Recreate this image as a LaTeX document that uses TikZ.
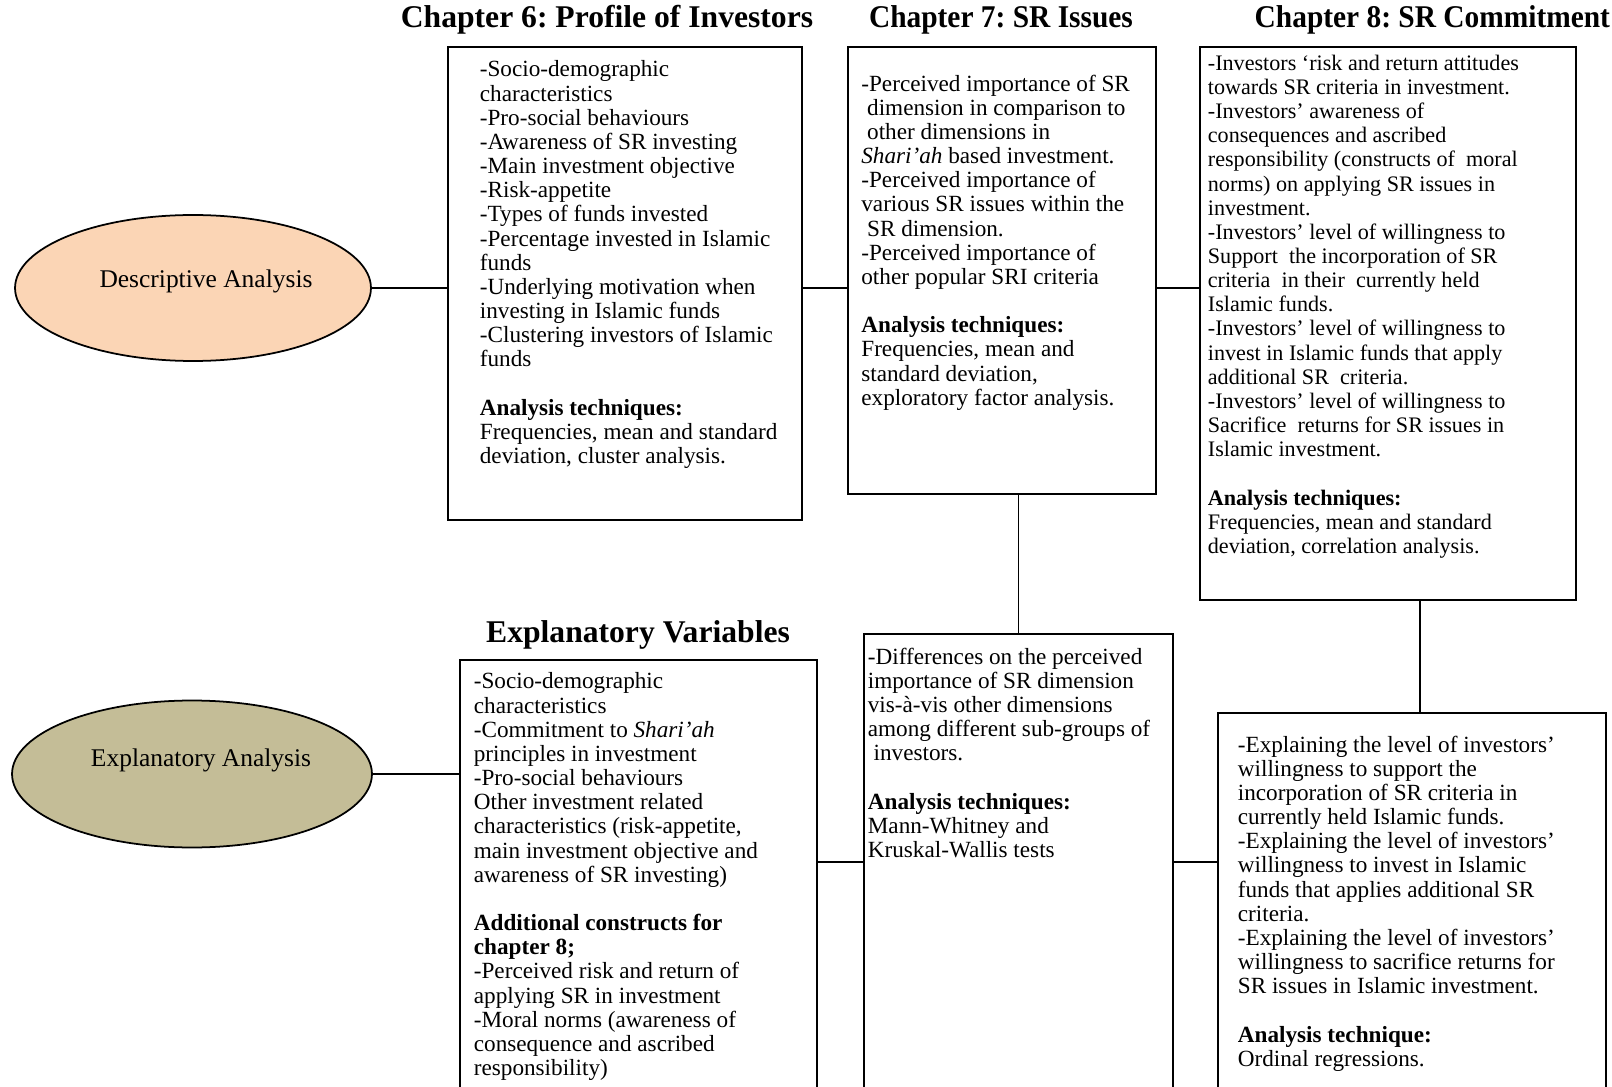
\documentclass[tikz,border=0pt]{standalone}
\usepackage{fontspec}
\setmainfont{Liberation Serif}
\newfontfamily\condfont[FakeStretch=0.93]{Liberation Serif}
\usepackage{tikz}
\usetikzlibrary{ shapes.geometric, positioning, calc }
\definecolor{peach}{HTML}{FBD5B5}
\definecolor{khaki}{HTML}{C4BD97}
\frenchspacing
\tikzset{
box/.style={draw, line width=1pt, inner sep=0pt}, % the framed text areas
body/.style={anchor=north west, inner sep=0pt, align=left,
  font=\fontsize{13.2}{13.75}\selectfont},
narrow/.style={body, font=\fontsize{12.6}{13.75}\selectfont},
title/.style={inner sep=0pt, font=\fontsize{18}{20}\selectfont\bfseries},
slim title/.style={title, font=\condfont\fontsize{18}{20}\selectfont\bfseries},
oval/.style={ellipse, draw, line width=1pt, inner sep=0pt},
oval text/.style={inner sep=0pt, font=\fontsize{14.5}{16}\selectfont},
}

\begin{document}
\begin{tikzpicture}[x=0.02cm, y=-0.02cm, line width=0.8pt]
  \useasboundingbox (0,0) rectangle (1612,1087);

  % headings
  \node[title] (t6) at (607,20) {Chapter 6: Profile of Investors};
  \node[slim title] (t7) at (1001,20) {Chapter 7: SR Issues};
  \node[slim title, anchor=west] (t8) at (1254,20) {Chapter 8: SR Commitment};
  \node[title] (tev) at (638,635) {Explanatory Variables};

  % the two kinds of analysis
  \node[oval, fill=peach, minimum width=7.12cm, minimum height=2.92cm] (desc) at (193,288) {};
  \node[oval, fill=khaki, minimum width=7.2cm, minimum height=2.94cm] (expl) at (192,774) {};
  \node[oval text] (descl) at ($(desc)+(13,-7)$) {Descriptive Analysis};
  \node[oval text] (expll) at ($(expl)+(9,-14)$) {Explanatory Analysis};

  % top row
  \node[box, minimum width=7.08cm, minimum height=9.46cm] (b6) at (625,283.5) {};
  \node[box, minimum width=6.16cm, minimum height=8.94cm] (b7) at (1002,270.5) {};
  \node[box, minimum width=7.52cm, minimum height=11.06cm] (b8) at (1388,323.5) {};

  % bottom row
  \node[box, minimum width=7.14cm, minimum height=8.8cm] (ev) at (638.5,880) {};
  \node[box, minimum width=6.18cm, minimum height=9.32cm] (dif) at (1018.5,867) {};
  \node[box, minimum width=7.76cm, minimum height=7.74cm] (ord) at (1412,906.5) {};

  \node[body] (x6) at ($(b6.north west)+(32,14)$) {%
    -Socio-demographic\\ characteristics\\ -Pro-social behaviours\\
    -Awareness of SR investing\\ -Main investment objective\\ -Risk-appetite\\
    -Types of funds invested\\ -Percentage invested in Islamic\\ funds\\
    -Underlying motivation when\\ investing in Islamic funds\\
    -Clustering investors of Islamic\\ funds\\[13.75pt]
    \textbf{Analysis techniques:}\\ Frequencies, mean and standard\\
    deviation, cluster analysis.};

  \node[body] (x7) at ($(b7.north west)+(13.5,28)$) {%
    -Perceived importance of SR\\ \hspace{0.25em}dimension in comparison to\\
    \hspace{0.25em}other dimensions in\\ \textit{Shari’ah} based investment.\\
    -Perceived importance of\\ various SR issues within the\\
    \hspace{0.25em}SR dimension.\\ -Perceived importance of\\
    other popular SRI criteria\\[13.75pt]
    \textbf{Analysis techniques:}\\ Frequencies, mean and\\
    standard deviation,\\ exploratory factor analysis.};

  \node[narrow] (x8) at ($(b8.north west)+(8,8)$) {%
    -Investors ‘risk and return attitudes\\ towards SR criteria in investment.\\
    -Investors’ awareness of\\ consequences and ascribed\\
    responsibility (constructs of~ moral\\ norms) on applying SR issues in\\
    investment.\\ -Investors’ level of willingness to\\
    Support~ the incorporation of SR\\ criteria~ in their~ currently held\\
    Islamic funds.\\ -Investors’ level of willingness to\\
    invest in Islamic funds that apply\\ additional SR~ criteria.\\
    -Investors’ level of willingness to\\ Sacrifice~ returns for SR issues in\\
    Islamic investment.\\[13.75pt]
    \textbf{Analysis techniques:}\\ Frequencies, mean and standard\\
    deviation, correlation analysis.};

  \node[body] (xev) at ($(ev.north west)+(14,13)$) {%
    -Socio-demographic\\ characteristics\\ -Commitment to \textit{Shari’ah}\\
    principles in investment\\ -Pro-social behaviours\\
    Other investment related\\ characteristics (risk-appetite,\\
    main investment objective and\\ awareness of SR investing)\\[13.75pt]
    \textbf{Additional constructs for}\\ \textbf{chapter 8;}\\
    -Perceived risk and return of\\ applying SR in investment\\
    -Moral norms (awareness of\\ consequence and ascribed\\ responsibility)};

  \node[body] (xdif) at ($(dif.north west)+(4,14)$) {%
    -Differences on the perceived\\ importance of SR dimension\\
    vis-à-vis other dimensions\\ among different sub-groups of\\
    \hspace{0.25em}investors.\\[13.75pt]
    \textbf{Analysis techniques:}\\ Mann-Whitney and\\ Kruskal-Wallis tests};

  \node[body] (xord) at ($(ord.north west)+(20,23)$) {%
    -Explaining the level of investors’\\ willingness to support the\\
    incorporation of SR criteria in\\ currently held Islamic funds.\\
    -Explaining the level of investors’\\ willingness to invest in Islamic\\
    funds that applies additional SR\\ criteria.\\
    -Explaining the level of investors’\\ willingness to sacrifice returns for\\
    SR issues in Islamic investment.\\[13.75pt]
    \textbf{Analysis technique:}\\ Ordinal regressions.};

  % links
  \coordinate (row) at (0,862);
  \draw (desc.east) -- (desc.east -| b6.west);
  \draw (b6.east |- desc.east) -- (b7.west |- desc.east);
  \draw (b7.east |- desc.east) -- (b8.west |- desc.east);
  \draw (dif.north) -- (dif.north |- b7.south);
  \draw ([xshift=8*0.02cm]ord.north) -- ([xshift=8*0.02cm]ord.north |- b8.south);
  \draw (expl.east) -- (expl.east -| ev.west);
  \draw (ev.east |- row) -- (dif.west |- row);
  \draw (dif.east |- row) -- (ord.west |- row);
\end{tikzpicture}
\end{document}
